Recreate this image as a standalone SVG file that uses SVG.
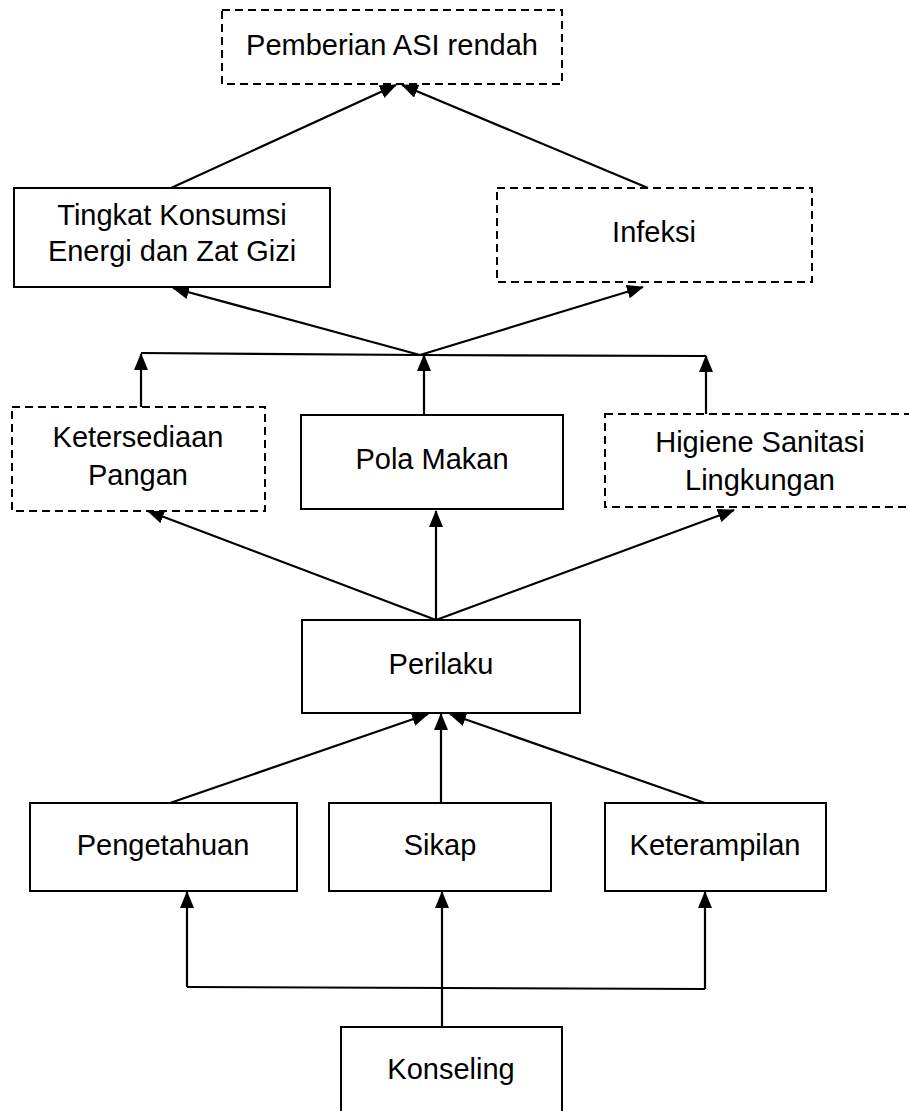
<svg xmlns="http://www.w3.org/2000/svg" width="909" height="1111" viewBox="0 0 909 1111">
<style>
.box{fill:#fff;stroke:#000;stroke-width:2}
.dash{stroke-dasharray:8,5}
.t{font-family:"Liberation Sans",Arial,sans-serif;font-size:29px;fill:#000;text-anchor:middle}
.c{fill:none;stroke:#000;stroke-width:2.2}
</style>
<defs>
<marker id="ah" markerUnits="userSpaceOnUse" markerWidth="17" markerHeight="14" viewBox="0 0 17 14" refX="16" refY="7" orient="auto">
<path d="M0,0 L17,7 L0,14 z" fill="#000"/>
</marker>
</defs>
<rect width="909" height="1111" fill="#fff"/>
<g id="connectors">
<line class="c" x1="171" y1="188" x2="396" y2="85" marker-end="url(#ah)"/>
<line class="c" x1="648" y1="188" x2="402" y2="85" marker-end="url(#ah)"/>
<line class="c" x1="420" y1="355" x2="173" y2="288" marker-end="url(#ah)"/>
<line class="c" x1="420" y1="355" x2="643" y2="287" marker-end="url(#ah)"/>
<polyline class="c" points="141,353 420,355 706,356"/>
<line class="c" x1="141" y1="407" x2="141" y2="354" marker-end="url(#ah)"/>
<line class="c" x1="424" y1="415" x2="424" y2="355" marker-end="url(#ah)"/>
<line class="c" x1="706" y1="414" x2="706" y2="356" marker-end="url(#ah)"/>
<line class="c" x1="436" y1="620" x2="148" y2="511" marker-end="url(#ah)"/>
<line class="c" x1="436" y1="620" x2="436" y2="511" marker-end="url(#ah)"/>
<line class="c" x1="436" y1="620" x2="734" y2="510" marker-end="url(#ah)"/>
<line class="c" x1="170" y1="803" x2="428" y2="714" marker-end="url(#ah)"/>
<line class="c" x1="441" y1="803" x2="441" y2="714" marker-end="url(#ah)"/>
<line class="c" x1="705" y1="803" x2="450" y2="714" marker-end="url(#ah)"/>
<line class="c" x1="442" y1="1027" x2="442" y2="892" marker-end="url(#ah)"/>
<polyline class="c" points="187,987 705,989"/>
<line class="c" x1="187" y1="987" x2="187" y2="892" marker-end="url(#ah)"/>
<line class="c" x1="705" y1="989" x2="705" y2="892" marker-end="url(#ah)"/>
</g>
<g id="n-pemberian">
<rect class="box dash" x="222" y="10" width="340" height="74"/>
<text class="t" x="392" y="55">Pemberian ASI rendah</text>
</g>
<g id="n-tingkat">
<rect class="box" x="14" y="188" width="316" height="99"/>
<text class="t" x="172" y="225">Tingkat Konsumsi</text>
<text class="t" x="172" y="261">Energi dan Zat Gizi</text>
</g>
<g id="n-infeksi">
<rect class="box dash" x="497" y="188" width="315" height="94"/>
<text class="t" x="654" y="242">Infeksi</text>
</g>
<g id="n-ketersediaan">
<rect class="box dash" x="12" y="407" width="253" height="104"/>
<text class="t" x="138" y="447">Ketersediaan</text>
<text class="t" x="138" y="485">Pangan</text>
</g>
<g id="n-pola">
<rect class="box" x="301" y="415" width="262" height="94"/>
<text class="t" x="432" y="469">Pola Makan</text>
</g>
<g id="n-higiene">
<rect class="box dash" x="605" y="414" width="312" height="93"/>
<text class="t" x="760" y="452">Higiene Sanitasi</text>
<text class="t" x="760" y="490">Lingkungan</text>
</g>
<g id="n-perilaku">
<rect class="box" x="302" y="620" width="278" height="93"/>
<text class="t" x="441" y="674">Perilaku</text>
</g>
<g id="n-pengetahuan">
<rect class="box" x="30" y="803" width="267" height="88"/>
<text class="t" x="163" y="855">Pengetahuan</text>
</g>
<g id="n-sikap">
<rect class="box" x="329" y="803" width="222" height="88"/>
<text class="t" x="440" y="855">Sikap</text>
</g>
<g id="n-keterampilan">
<rect class="box" x="605" y="803" width="221" height="88"/>
<text class="t" x="715" y="855">Keterampilan</text>
</g>
<g id="n-konseling">
<rect class="box" x="341" y="1027" width="221" height="95"/>
<text class="t" x="451" y="1079">Konseling</text>
</g>
</svg>
